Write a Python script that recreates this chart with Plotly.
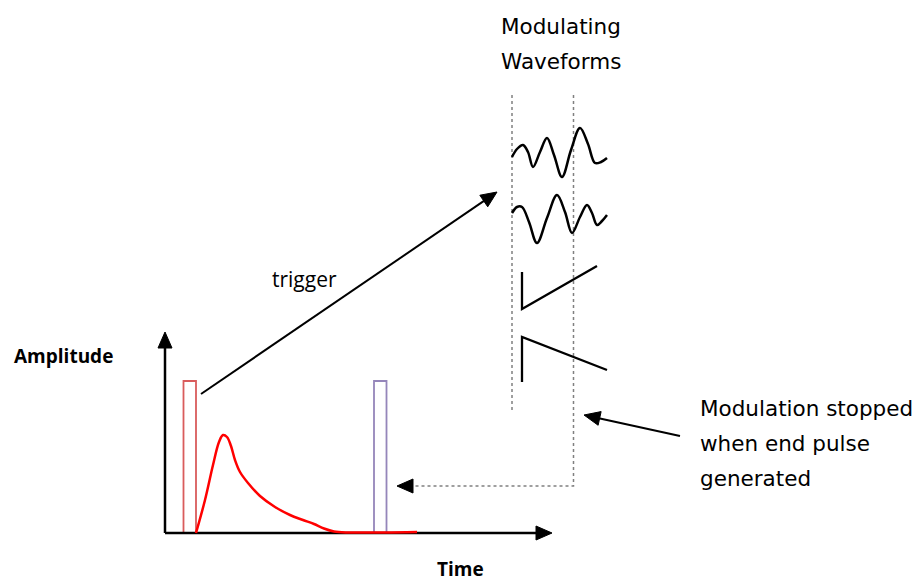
import plotly.graph_objects as go
import math

# ---------------- data (diagram units = pixels, y downward) ----------------
# response curve after trigger pulse
curve_t = [196, 205, 213, 219, 223, 227, 231, 235, 240, 248, 260, 275, 290, 303, 314, 324, 334, 348, 370, 386, 417]
curve_amp = [533, 500, 465, 442, 435, 437, 446, 460, 472, 483, 496, 507, 515, 520, 524, 528.5, 531.5, 532.5, 532.5, 532.5, 532]

# modulating waveforms
wave1_x = [512, 517, 523, 528, 533, 540, 547, 554, 562, 571, 580, 588, 595, 601, 607]
wave1_y = [157, 149, 145, 152, 167, 152, 138, 155, 177, 150, 128, 144, 163, 162, 158]
wave2_x = [512, 517, 522, 529, 537, 547, 557, 565, 572, 580, 587, 592, 597, 602, 607]
wave2_y = [213, 207, 207, 222, 243, 218, 195, 212, 233, 217, 205, 213, 225, 221, 215]
ramp1_x = [522, 522, 597]
ramp1_y = [272, 309, 266]
ramp2_x = [522, 522, 607]
ramp2_y = [382, 337, 370]

# pulses: (x0, x1, y_top, y_bottom)
start_pulse = (183.5, 196, 381, 533)
end_pulse = (374, 386.5, 381, 533)

# axes
origin = (165, 533)
y_axis_tip = (165, 332)
x_axis_tip = (552, 533)

# dotted guides
guide1_x = [512, 512]
guide1_y = [95, 413]
guide2_x = [573.5, 573.5, 413]
guide2_y = [95, 486, 486]
guide2_tip = (397, 486)

# arrows
trigger_from = (201, 394)
trigger_tip = (497, 192)
note_from = (680, 436)
note_tip = (584, 415)

# text labels
title_lines = ["Modulating", "Waveforms"]
note_lines = ["Modulation stopped", "when end pulse", "generated"]
trigger_label = "trigger"
y_label = "Amplitude"
x_label = "Time"

fig = go.Figure()

def add_line(xs, ys, color="black", width=2.2, dash="solid", shape="linear"):
    fig.add_trace(go.Scatter(x=xs, y=ys, mode="lines", hoverinfo="skip",
                             line=dict(color=color, width=width, dash=dash, shape=shape)))

def add_head(frm, tip, L=16, hw=7, color="black"):
    dx, dy = tip[0] - frm[0], tip[1] - frm[1]
    n = math.hypot(dx, dy)
    ux, uy = dx / n, dy / n
    bx, by = tip[0] - ux * L, tip[1] - uy * L
    px, py = -uy, ux
    xs = [tip[0], bx + px * hw, bx - px * hw, tip[0]]
    ys = [tip[1], by + py * hw, by - py * hw, tip[1]]
    fig.add_trace(go.Scatter(x=xs, y=ys, mode="lines", fill="toself", fillcolor=color,
                             line=dict(color=color, width=1), hoverinfo="skip"))
    return (bx + ux * 2, by + uy * 2)

def add_arrow(frm, tip, width=2.2, L=16, hw=7):
    base = add_head(frm, tip, L, hw)
    add_line([frm[0], base[0]], [frm[1], base[1]], width=width)

# pulses
for (x0, x1, yt, yb), col in [(start_pulse, "#d95c5c"), (end_pulse, "#9586ba")]:
    add_line([x0, x0, x1, x1, x0], [yb, yt, yt, yb, yb], color=col, width=1.8)

# axes
add_arrow(origin, y_axis_tip, width=2.5)
add_arrow(origin, x_axis_tip, width=2.5)

# response curve
add_line(curve_t, curve_amp, color="#ff0000", width=2.5, shape="spline")

# guides
add_line(guide1_x, guide1_y, color="#808080", width=1.5, dash="dot")
add_line(guide2_x, guide2_y, color="#808080", width=1.5, dash="dot")
add_head((guide2_x[-1], guide2_y[-1]), guide2_tip)

# waveforms
add_line(wave1_x, wave1_y, width=2.5, shape="spline")
add_line(wave2_x, wave2_y, width=2.5, shape="spline")
add_line(ramp1_x, ramp1_y, width=2.3)
add_line(ramp2_x, ramp2_y, width=2.3)

# arrows
add_arrow(trigger_from, trigger_tip, width=2)
add_arrow(note_from, note_tip, width=2)

# text
lbl_font = dict(family="DejaVu Sans, sans-serif", size=21.5, color="black")
bold_font = dict(family="Open Sans, sans-serif", size=19, color="black")
ann = []
for i, t in enumerate(title_lines):
    ann.append(dict(x=561, y=26 + 35 * i, text=t, font=lbl_font, xanchor="center"))
for i, t in enumerate(note_lines):
    ann.append(dict(x=699, y=408 + 35 * i, text=t, font=lbl_font, xanchor="left"))
ann.append(dict(x=304, y=279, text=trigger_label, font=dict(family="Open Sans, sans-serif", size=21, color="black"), xanchor="center"))
ann.append(dict(x=63, y=356, text="<b>%s</b>" % y_label, font=bold_font, xanchor="center"))
ann.append(dict(x=460, y=569, text="<b>%s</b>" % x_label, font=bold_font, xanchor="center"))
for a in ann:
    fig.add_annotation(xref="x", yref="y", showarrow=False, yanchor="middle", borderpad=0, **a)

# the page body has an 8px margin: size the figure to fit and offset the ranges
fig.update_layout(
    width=916, height=573,
    margin=dict(l=0, r=0, t=0, b=0),
    paper_bgcolor="white", plot_bgcolor="white",
    showlegend=False,
    xaxis=dict(range=[8, 924], visible=False, fixedrange=True),
    yaxis=dict(range=[581, 8], visible=False, fixedrange=True),
)

fig.write_html("out.html")
